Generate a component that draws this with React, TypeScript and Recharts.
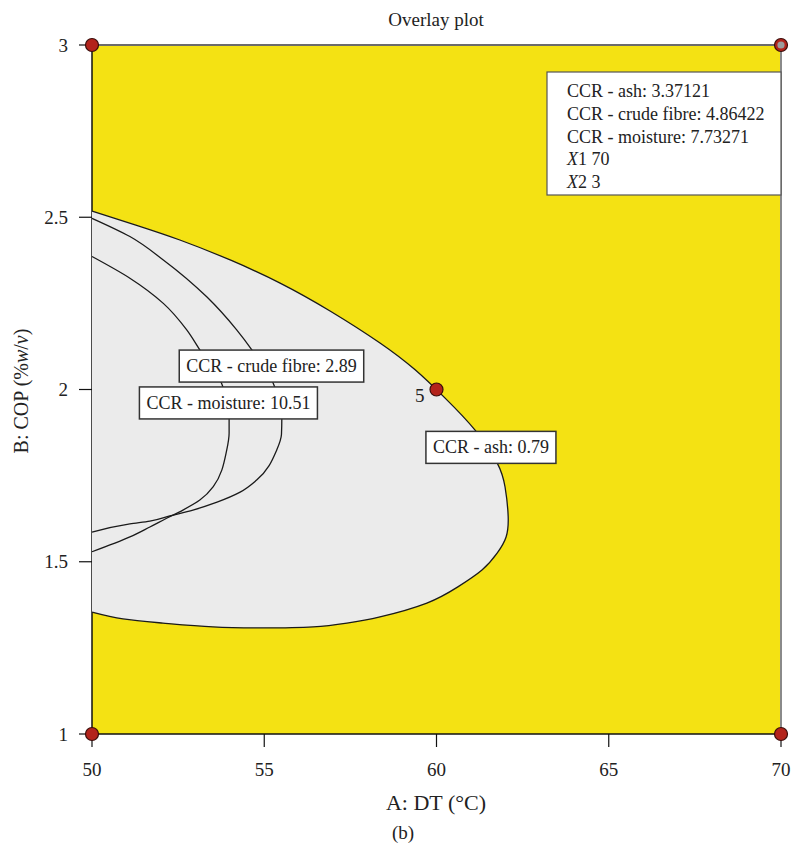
import React, { useLayoutEffect, useRef, useState } from "react"
import { ComposedChart, Scatter, XAxis, YAxis, CartesianGrid, ReferenceLine, Curve } from "recharts"

const FONT = '"Liberation Serif", "DejaVu Serif", serif'

const xTicks = [50, 55, 60, 65, 70]
const yTicks = [1, 1.5, 2, 2.5, 3]

// CCR - ash: 0.79 contour (upper edge out to the tip, then back along the lower edge)
const ashContour: [number, number][] = [
  [50, 2.518], [51.25, 2.478], [52.55, 2.434], [54.01, 2.376], [55.46, 2.309],
  [56.91, 2.228], [58.36, 2.135], [59.38, 2.057], [60.25, 1.975], [61.12, 1.882],
  [61.76, 1.787], [61.99, 1.717], [62.08, 1.633], [62.02, 1.572], [61.76, 1.525],
  [61.32, 1.476], [60.62, 1.427], [59.72, 1.38], [58.36, 1.34], [57.4, 1.322],
  [56.42, 1.311], [54.96, 1.308], [53.51, 1.311], [52.06, 1.322], [50.9, 1.334],
  [50, 1.354],
]

// CCR - crude fibre: 2.89
const fibreContour: [number, number][] = [
  [50, 2.497], [51.1, 2.444], [52.07, 2.376], [53.33, 2.269], [54.2, 2.173],
  [54.64, 2.115], [55.26, 2.018], [55.51, 1.916], [55.5, 1.87], [55.36, 1.824],
  [54.78, 1.737], [54.3, 1.702], [53.63, 1.673], [52.93, 1.65], [52.26, 1.633],
  [51.68, 1.618], [51.1, 1.61], [50, 1.586],
]

// CCR - moisture: 10.51
const moistureContour: [number, number][] = [
  [50, 2.386], [51.1, 2.323], [52.07, 2.25], [52.75, 2.173], [53.13, 2.115],
  [53.76, 2.018], [53.98, 1.916], [53.98, 1.873], [53.91, 1.824], [53.52, 1.718],
  [53.13, 1.679], [52.64, 1.65], [52.18, 1.627], [51.68, 1.601], [51.1, 1.572],
  [50, 1.529],
]

const designPoints = [
  { x: 50, y: 3 },
  { x: 70, y: 3, flag: true },
  { x: 50, y: 1 },
  { x: 70, y: 1 },
  { x: 60, y: 2, label: "5" },
]

const contourLabels = [
  { x: 55.21, y: 2.068, text: "CCR - crude fibre: 2.89" },
  { x: 53.96, y: 1.961, text: "CCR - moisture: 10.51" },
  { x: 61.58, y: 1.832, text: "CCR - ash: 0.79" },
]

const flagPoint = [{ x: 70, y: 3 }]
const flagLines = [
  { it: "", text: "CCR - ash: 3.37121" },
  { it: "", text: "CCR - crude fibre: 4.86422" },
  { it: "", text: "CCR - moisture: 7.73271" },
  { it: "X", text: "1 70" },
  { it: "X", text: "2 3" },
]

const toPts = (arr: [number, number][]) => arr.map(([x, y]) => ({ x, y }))

const Nothing = () => <g />

function DesignPoint({ cx, cy, payload }: any) {
  return (
    <g>
      <circle cx={cx} cy={cy} r={6.5} fill="#b3231b" stroke="#3a0d0a" strokeWidth={1.2} />
      {payload.flag && <circle cx={cx} cy={cy} r={3.6} fill="#9c9c9c" />}
      {payload.label && (
        <text x={cx - 12} y={cy + 12} textAnchor="end" fontFamily={FONT} fontSize={19} fill="#222">
          {payload.label}
        </text>
      )}
    </g>
  )
}

function LabelBox({ cx, cy, payload }: any) {
  const ref = useRef<SVGTextElement>(null)
  const [w, setW] = useState(160)
  useLayoutEffect(() => {
    if (ref.current) setW(ref.current.getComputedTextLength())
  }, [payload.text])
  const bw = w + 14
  return (
    <g>
      <rect x={cx - bw / 2} y={cy - 16} width={bw} height={32} fill="#fff" stroke="#333" strokeWidth={1.5} />
      <text ref={ref} x={cx} y={cy + 6} textAnchor="middle" fontFamily={FONT} fontSize={18} fill="#222">
        {payload.text}
      </text>
    </g>
  )
}

function FlagBox({ cx, cy }: any) {
  const left = cx - 234
  const top = cy + 27
  return (
    <g>
      <rect x={left} y={top} width={234} height={123} fill="#fff" stroke="#555" strokeWidth={1.2} />
      {flagLines.map((l, i) => (
        <text key={i} x={left + 20} y={top + 25 + i * 22.8} fontFamily={FONT} fontSize={18} fill="#222">
          {l.it && <tspan fontStyle="italic">{l.it}</tspan>}
          {l.text}
        </text>
      ))}
    </g>
  )
}

export default function App() {
  return (
    <div style={{ position: "absolute", left: 0, top: 0, width: 795, height: 851, background: "#fff" }}>
      <ComposedChart width={795} height={851} margin={{ top: 45, right: 14, bottom: 0, left: 0 }}>
        <CartesianGrid horizontal={false} vertical={false} fill="#f4e213" fillOpacity={1} />
        <XAxis
          type="number"
          dataKey="x"
          domain={[50, 70]}
          ticks={xTicks}
          interval={0}
          height={117}
          tickSize={13}
          tickMargin={16}
          axisLine={{ stroke: "#111", strokeWidth: 1.5 }}
          tickLine={{ stroke: "#111", strokeWidth: 1.2 }}
          tick={{ fontSize: 19, fill: "#222", fontFamily: FONT }}
        />
        <YAxis
          type="number"
          dataKey="y"
          domain={[1, 3]}
          ticks={yTicks}
          interval={0}
          width={92}
          tickSize={13}
          tickMargin={11}
          axisLine={{ stroke: "#111", strokeWidth: 1.5 }}
          tickLine={{ stroke: "#111", strokeWidth: 1.2 }}
          tick={{ fontSize: 19, fill: "#222", fontFamily: FONT }}
        />
        <Scatter
          data={toPts(ashContour)}
          shape={Nothing}
          line={<Curve type="natural" fill="#ebebeb" stroke="#1a1a1a" strokeWidth={1.3} />}
          isAnimationActive={false}
          legendType="none"
        />
        <Scatter
          data={toPts(fibreContour)}
          shape={Nothing}
          line={<Curve type="monotoneY" fill="none" stroke="#1a1a1a" strokeWidth={1.3} />}
          isAnimationActive={false}
          legendType="none"
        />
        <Scatter
          data={toPts(moistureContour)}
          shape={Nothing}
          line={<Curve type="monotoneY" fill="none" stroke="#1a1a1a" strokeWidth={1.3} />}
          isAnimationActive={false}
          legendType="none"
        />
        <ReferenceLine y={3} stroke="#6b6b6b" strokeWidth={2} />
        <ReferenceLine x={70} stroke="#8a8a8a" strokeWidth={2} />
        <Scatter
          data={contourLabels}
          shape={(p: any) => <LabelBox {...p} />}
          isAnimationActive={false}
          legendType="none"
        />
        <Scatter
          data={flagPoint}
          shape={(p: any) => <FlagBox {...p} />}
          isAnimationActive={false}
          legendType="none"
        />
        <Scatter
          data={designPoints}
          shape={(p: any) => <DesignPoint {...p} />}
          isAnimationActive={false}
          legendType="none"
        />
        <text x={436} y={26} textAnchor="middle" fontFamily={FONT} fontSize={19} fill="#222">
          Overlay plot
        </text>
        <text x={436} y={810} textAnchor="middle" fontFamily={FONT} fontSize={22} fill="#222">
          A: DT (°C)
        </text>
        <text x={403} y={839} textAnchor="middle" fontFamily={FONT} fontSize={19} fill="#222">
          (b)
        </text>
        <text
          x={28}
          y={391}
          transform="rotate(-90, 28, 391)"
          textAnchor="middle"
          fontFamily={FONT}
          fontSize={20}
          fill="#222"
        >
          B: COP (%<tspan fontStyle="italic">w</tspan>/<tspan fontStyle="italic">v</tspan>)
        </text>
      </ComposedChart>
    </div>
  )
}
